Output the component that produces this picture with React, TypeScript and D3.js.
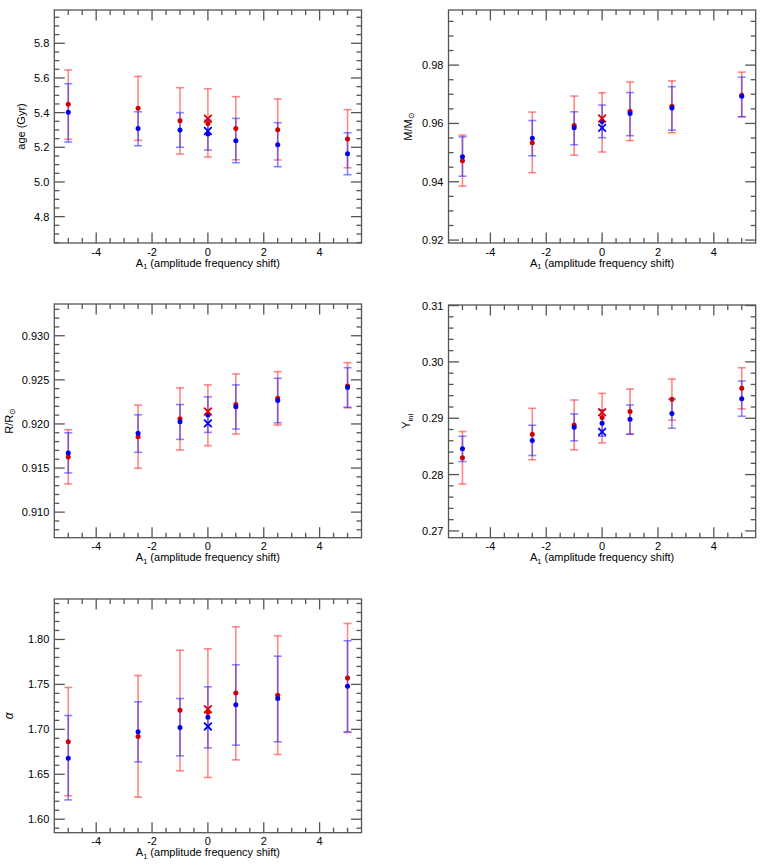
import * as d3 from "d3";

// A1 values of the fitted grids
const SHIFTS = [-5, -2.5, -1, 0, 1, 2.5, 5];
const X_TICKS = [-4, -2, 0, 2, 4];

// age (Gyr)
const AGE_TICKS = [4.8, 5.0, 5.2, 5.4, 5.6, 5.8];
const AGE_RED = [5.448, 5.425, 5.353, 5.338, 5.309, 5.301, 5.248];
const AGE_RED_LO = [5.246, 5.24, 5.161, 5.144, 5.128, 5.127, 5.082];
const AGE_RED_HI = [5.646, 5.609, 5.544, 5.538, 5.492, 5.479, 5.417];
const AGE_BLUE = [5.402, 5.309, 5.3, 5.277, 5.238, 5.215, 5.163];
const AGE_BLUE_LO = [5.23, 5.209, 5.2, 5.184, 5.111, 5.088, 5.042];
const AGE_BLUE_HI = [5.567, 5.405, 5.4, 5.357, 5.367, 5.342, 5.284];
const AGE_CROSS = [5.365, 5.294]; // red, blue

// M/Msun
const MASS_TICKS = [0.92, 0.94, 0.96, 0.98];
const MASS_RED = [0.9472, 0.9534, 0.9593, 0.9608, 0.9642, 0.9659, 0.9697];
const MASS_RED_LO = [0.9385, 0.9431, 0.9491, 0.9502, 0.9541, 0.9568, 0.9623];
const MASS_RED_HI = [0.956, 0.9639, 0.9694, 0.9705, 0.9742, 0.9746, 0.9776];
const MASS_BLUE = [0.9486, 0.9549, 0.9585, 0.9607, 0.9634, 0.9653, 0.9693];
const MASS_BLUE_LO = [0.9419, 0.9489, 0.9527, 0.9551, 0.9558, 0.9577, 0.9623];
const MASS_BLUE_HI = [0.9554, 0.961, 0.964, 0.9663, 0.9706, 0.9726, 0.9759];
const MASS_CROSS = [0.9617, 0.9585];

// R/Rsun
const RAD_TICKS = [0.91, 0.915, 0.92, 0.925, 0.93];
const RAD_RED = [0.91625, 0.91855, 0.92058, 0.9211, 0.9222, 0.9229, 0.92431];
const RAD_RED_LO = [0.9132, 0.91497, 0.91704, 0.91753, 0.91885, 0.91987, 0.92184];
const RAD_RED_HI = [0.91934, 0.92213, 0.92409, 0.92443, 0.92567, 0.92593, 0.92695];
const RAD_BLUE = [0.9167, 0.91893, 0.92024, 0.921, 0.92194, 0.92265, 0.92412];
const RAD_BLUE_LO = [0.91444, 0.91678, 0.91825, 0.91904, 0.91942, 0.92013, 0.92188];
const RAD_BLUE_HI = [0.919, 0.92104, 0.9222, 0.92307, 0.92443, 0.92518, 0.92638];
const RAD_CROSS = [0.92141, 0.92006];

// Y_ini
const YINI_TICKS = [0.27, 0.28, 0.29, 0.3, 0.31];
const YINI_RED = [0.28298, 0.28717, 0.28882, 0.29012, 0.29118, 0.29336, 0.29531];
const YINI_RED_LO = [0.27832, 0.28263, 0.2844, 0.28563, 0.28717, 0.28965, 0.29165];
const YINI_RED_HI = [0.28764, 0.29177, 0.29324, 0.29442, 0.29519, 0.29696, 0.29897];
const YINI_BLUE = [0.28457, 0.28605, 0.28841, 0.28912, 0.28982, 0.29083, 0.29348];
const YINI_BLUE_LO = [0.28233, 0.28339, 0.28599, 0.2868, 0.28717, 0.28823, 0.29035];
const YINI_BLUE_HI = [0.28681, 0.28876, 0.29077, 0.2915, 0.29236, 0.29342, 0.29661];
const YINI_CROSS = [0.29106, 0.28758];

// alpha (mixing length)
const ALPHA_TICKS = [1.6, 1.65, 1.7, 1.75, 1.8];
const ALPHA_RED = [1.6861, 1.692, 1.7213, 1.7191, 1.7403, 1.738, 1.757];
const ALPHA_RED_LO = [1.626, 1.6245, 1.6538, 1.6464, 1.666, 1.672, 1.6965];
const ALPHA_RED_HI = [1.7466, 1.7599, 1.7881, 1.7896, 1.8141, 1.8041, 1.8178];
const ALPHA_BLUE = [1.6679, 1.6972, 1.702, 1.7135, 1.7273, 1.7343, 1.748];
const ALPHA_BLUE_LO = [1.6215, 1.6638, 1.6705, 1.6794, 1.6824, 1.6861, 1.6972];
const ALPHA_BLUE_HI = [1.7154, 1.7306, 1.7343, 1.7473, 1.7718, 1.7814, 1.7985];
const ALPHA_CROSS = [1.7224, 1.7032];

const FONT = "'Liberation Sans', Arial, Helvetica, sans-serif";
const AXIS = "#555";
const RED_BAR = "rgba(255,40,40,0.55)";
const BLUE_BAR = "rgba(40,40,255,0.55)";
const RED_DOT = "#d00000";
const BLUE_DOT = "#0000f0";

const panels = [
  {
    box: { l: 54.3, r: 361.5, t: 10, b: 243 },
    domain: [4.648, 5.992], ticks: AGE_TICKS, minor: 0.05, digits: 1,
    red: AGE_RED, redLo: AGE_RED_LO, redHi: AGE_RED_HI,
    blue: AGE_BLUE, blueLo: AGE_BLUE_LO, blueHi: AGE_BLUE_HI, cross: AGE_CROSS,
    title: { main: "age (Gyr)", sub: "" }, titleX: 25,
  },
  {
    box: { l: 448.5, r: 755.7, t: 10, b: 243 },
    domain: [0.919, 0.9989], ticks: MASS_TICKS, minor: 0.005, digits: 2,
    red: MASS_RED, redLo: MASS_RED_LO, redHi: MASS_RED_HI,
    blue: MASS_BLUE, blueLo: MASS_BLUE_LO, blueHi: MASS_BLUE_HI, cross: MASS_CROSS,
    title: { main: "M/M", sub: "⊙" }, titleX: 411.5,
  },
  {
    box: { l: 54.3, r: 361.5, t: 304, b: 537.7 },
    domain: [0.9071, 0.9336], ticks: RAD_TICKS, minor: 0.001, digits: 3,
    red: RAD_RED, redLo: RAD_RED_LO, redHi: RAD_RED_HI,
    blue: RAD_BLUE, blueLo: RAD_BLUE_LO, blueHi: RAD_BLUE_HI, cross: RAD_CROSS,
    title: { main: "R/R", sub: "⊙" }, titleX: 12.5,
  },
  {
    box: { l: 448.5, r: 755.7, t: 305, b: 537.7 },
    domain: [0.2688, 0.3101], ticks: YINI_TICKS, minor: 0.002, digits: 2,
    red: YINI_RED, redLo: YINI_RED_LO, redHi: YINI_RED_HI,
    blue: YINI_BLUE, blueLo: YINI_BLUE_LO, blueHi: YINI_BLUE_HI, cross: YINI_CROSS,
    title: { main: "Y", sub: "ini" }, titleX: 410,
  },
  {
    box: { l: 54.3, r: 361.5, t: 599, b: 832.7 },
    domain: [1.585, 1.845], ticks: ALPHA_TICKS, minor: 0.01, digits: 2,
    red: ALPHA_RED, redLo: ALPHA_RED_LO, redHi: ALPHA_RED_HI,
    blue: ALPHA_BLUE, blueLo: ALPHA_BLUE_LO, blueHi: ALPHA_BLUE_HI, cross: ALPHA_CROSS,
    title: { main: "α", sub: "" }, titleX: 13,
  },
];

function ErrorBars({ x, y, vals, lo, hi, color }: any) {
  return (
    <g stroke={color} strokeWidth={1.6}>
      {SHIFTS.map((s, i) => (
        <g key={i}>
          <line x1={x(s)} x2={x(s)} y1={y(lo[i])} y2={y(hi[i])} />
          <line x1={x(s) - 4} x2={x(s) + 4} y1={y(lo[i])} y2={y(lo[i])} />
          <line x1={x(s) - 4} x2={x(s) + 4} y1={y(hi[i])} y2={y(hi[i])} />
        </g>
      ))}
    </g>
  );
}

function Cross({ cx, cy, color }: any) {
  const h = 3.8;
  return (
    <g stroke={color} strokeWidth={1.8}>
      <line x1={cx - h} x2={cx + h} y1={cy - h} y2={cy + h} />
      <line x1={cx - h} x2={cx + h} y1={cy + h} y2={cy - h} />
    </g>
  );
}

function Panel({ p }: any) {
  const { box } = p;
  const x = d3.scaleLinear().domain([-5.5, 5.5]).range([box.l, box.r]);
  const y = d3.scaleLinear().domain(p.domain).range([box.b, box.t]);

  const xMinor = d3.range(-10, 11).map((i) => i * 0.5).filter((v) => !X_TICKS.includes(v));
  const n0 = Math.ceil(p.domain[0] / p.minor - 1e-6);
  const n1 = Math.floor(p.domain[1] / p.minor + 1e-6);
  const yMinor = d3
    .range(n0, n1 + 1)
    .map((i) => i * p.minor)
    .filter((v) => !p.ticks.some((t: number) => Math.abs(t - v) < p.minor / 10));

  const major = 10.5;
  const minorLen = 5;
  const midY = (box.t + box.b) / 2;

  return (
    <g>
      {/* data */}
      <ErrorBars x={x} y={y} lo={p.redLo} hi={p.redHi} color={RED_BAR} />
      <ErrorBars x={x} y={y} lo={p.blueLo} hi={p.blueHi} color={BLUE_BAR} />
      {SHIFTS.map((s, i) => (
        <circle key={"r" + i} cx={x(s)} cy={y(p.red[i])} r={2.5} fill={RED_DOT} />
      ))}
      {SHIFTS.map((s, i) => (
        <circle key={"b" + i} cx={x(s)} cy={y(p.blue[i])} r={2.5} fill={BLUE_DOT} />
      ))}
      <Cross cx={x(0)} cy={y(p.cross[0])} color="#e00000" />
      <Cross cx={x(0)} cy={y(p.cross[1])} color="#0000f0" />

      {/* frame and ticks on all four sides */}
      <g stroke={AXIS} strokeWidth={1.3} fill="none">
        <rect x={box.l} y={box.t} width={box.r - box.l} height={box.b - box.t} />
        {X_TICKS.map((v) => (
          <g key={"xm" + v}>
            <line x1={x(v)} x2={x(v)} y1={box.b} y2={box.b - major} />
            <line x1={x(v)} x2={x(v)} y1={box.t} y2={box.t + major} />
          </g>
        ))}
        {xMinor.map((v) => (
          <g key={"xn" + v}>
            <line x1={x(v)} x2={x(v)} y1={box.b} y2={box.b - minorLen} />
            <line x1={x(v)} x2={x(v)} y1={box.t} y2={box.t + minorLen} />
          </g>
        ))}
        {p.ticks.map((v: number) => (
          <g key={"ym" + v}>
            <line x1={box.l} x2={box.l + major} y1={y(v)} y2={y(v)} />
            <line x1={box.r} x2={box.r - major} y1={y(v)} y2={y(v)} />
          </g>
        ))}
        {yMinor.map((v: number) => (
          <g key={"yn" + v}>
            <line x1={box.l} x2={box.l + minorLen} y1={y(v)} y2={y(v)} />
            <line x1={box.r} x2={box.r - minorLen} y1={y(v)} y2={y(v)} />
          </g>
        ))}
      </g>

      {/* labels */}
      <g fontFamily={FONT} fontSize={11} fill="#000">
        {X_TICKS.map((v) => (
          <text key={"xl" + v} x={x(v)} y={box.b + 12.5} textAnchor="middle">
            {String(v)}
          </text>
        ))}
        {p.ticks.map((v: number) => (
          <text key={"yl" + v} x={box.l - 5} y={y(v)} dy="0.36em" textAnchor="end">
            {v.toFixed(p.digits)}
          </text>
        ))}
        <text x={(box.l + box.r) / 2} y={box.b + 23.5} textAnchor="middle">
          A<tspan fontSize={7.5} dy={2.5}>1</tspan>
          <tspan dy={-2.5}> (amplitude frequency shift)</tspan>
        </text>
        <text
          transform={`translate(${p.titleX},${midY}) rotate(-90)`}
          textAnchor="middle"
          fontSize={p.title.main === "α" ? 12 : 11}
          fontStyle={p.title.main === "α" ? "italic" : "normal"}
        >
          {p.title.main}
          {p.title.sub && (
            <tspan fontSize={7.5} dy={2.5}>
              {p.title.sub}
            </tspan>
          )}
        </text>
      </g>
    </g>
  );
}

export default function App() {
  return (
    <svg
      width={765}
      height={865}
      style={{ position: "absolute", left: 0, top: 0, background: "#fff" }}
    >
      {panels.map((p, i) => (
        <Panel key={i} p={p} />
      ))}
    </svg>
  );
}
